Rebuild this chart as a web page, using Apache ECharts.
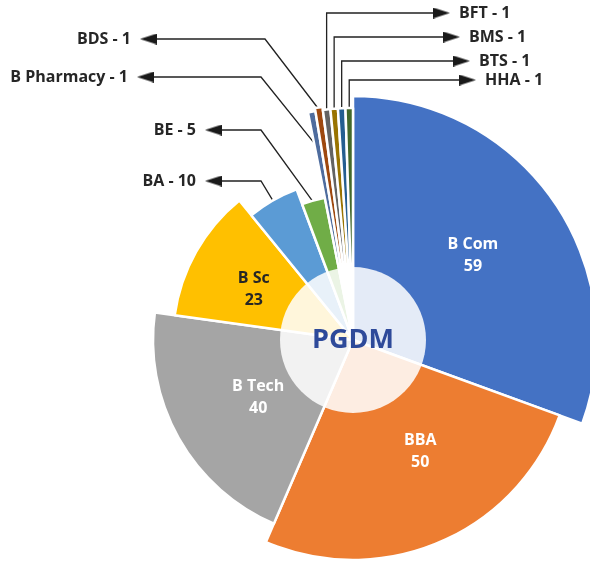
<!DOCTYPE html>
<html><head><meta charset="utf-8">
<script src="https://cdn.jsdelivr.net/npm/echarts@6/dist/echarts.min.js"></script>
<style>html,body{margin:0;padding:0;background:#fff}#c{width:590px;height:561px}</style>
</head><body><div id="c"></div>
<script>
// ---- data ----
const categories = ['B Com','BBA','B Tech','B Sc','BA','BE','B Pharmacy','BDS','BFT','BMS','BTS','HHA'];
const values = [59,50,40,23,10,5,1,1,1,1,1,1];
const centerTitle = 'PGDM';

// ---- styles / layout ----
const colors = ['#4472C4','#ED7D31','#A5A5A5','#FFC000','#5B9BD5','#70AD47','#4E6C9E','#9E480E','#636363','#997300','#255E91','#43682B'];
const outerRadius = [244,220,200,180,161,145,232,235,232,232,232,232];
const center = [353,340];
const innerR = 73;
const FONT = '"Open Sans", "DejaVu Sans", sans-serif';
const insideLabel = {
  0:{r0:50, color:'#ffffff', offset:[-3,1]},
  1:{r0:38, color:'#ffffff', offset:[15,-10]},
  2:{r0:30, color:'#ffffff', offset:[8,0]},
  3:{r0:44, color:'#262626', offset:[1,6]}
};
const leaders = {
  4:{side:'left', startR:157, elbowX:261, y:181, endX:222},
  5:{side:'left', startR:142, elbowX:261, y:130, endX:222},
  6:{side:'left', startR:195, elbowX:261, y:77, endX:154},
  7:{side:'left', startR:233, elbowX:265, y:39, endX:157},
  8:{side:'right', startR:232, y:13, endX:433},
  9:{side:'right', startR:232, y:37, endX:443},
  10:{side:'right', startR:232, y:61, endX:453},
  11:{side:'right', startR:232, y:80, endX:459}
};

function makeArrow(dir){
  const c = document.createElement('canvas');
  c.width = 17; c.height = 11;
  const g = c.getContext('2d');
  g.fillStyle = '#1a1a1a';
  g.beginPath();
  if (dir === 'left'){ g.moveTo(0,5.5); g.lineTo(17,0); g.lineTo(17,11); }
  else { g.moveTo(17,5.5); g.lineTo(0,0); g.lineTo(0,11); }
  g.closePath(); g.fill();
  return c;
}
const arrowL = makeArrow('left'), arrowR = makeArrow('right');

const total = values.reduce((a,b)=>a+b,0);
function midAngle(j){
  let s = 0; for (let k=0;k<j;k++) s += values[k];
  return (s + values[j]/2) / total * Math.PI * 2;
}
function pointAt(j, r){
  const t = midAngle(j);
  return [center[0] + r*Math.sin(t), center[1] - r*Math.cos(t)];
}

const richText = {
  t:{fontSize:16, fontWeight:'bold', color:'#262626', fontFamily:FONT, lineHeight:20},
  g:{width:9},
  al:{width:17, height:11, backgroundColor:{image:arrowL}},
  ar:{width:17, height:11, backgroundColor:{image:arrowR}}
};

const series = [];
categories.forEach((cat, i) => {
  const hasLeader = leaders[i] != null;
  series.push({
    type:'pie', center:center, radius:[0, outerRadius[i]], startAngle:90, clockwise:true,
    silent:true, animation:false, avoidLabelOverlap:false, emphasis:{disabled:true},
    data: values.map((v,j)=>({
      name:categories[j], value:v,
      itemStyle: j===i ? {color:colors[j], borderColor:'#ffffff', borderWidth:2.5} : {color:'rgba(0,0,0,0)', borderWidth:0},
      label:{show: j===i && hasLeader},
      labelLine:{show: j===i && hasLeader}
    })),
    label:{
      position:'outside',
      formatter: p => leaders[p.dataIndex] && leaders[p.dataIndex].side === 'right'
        ? '{ar| }{g| }{t|' + p.name + ' - ' + p.value + '}'
        : '{t|' + p.name + ' - ' + p.value + '}{g| }{al| }',
      rich: richText
    },
    labelLine:{show:true, smooth:false, lineStyle:{color:'#222222', width:1.3}},
    labelLayout: function(p){
      const L = leaders[p.dataIndex];
      if (!L) return {};
      const s = pointAt(p.dataIndex, L.startR);
      if (L.side === 'left'){
        return {x:L.endX, y:L.y, align:'right', verticalAlign:'middle',
          labelLinePoints:[s, [L.elbowX, L.y], [L.endX, L.y]]};
      }
      return {x:L.endX, y:L.y, align:'left', verticalAlign:'middle',
        labelLinePoints:[s, [s[0], L.y], [L.endX, L.y]]};
    }
  });
});

// translucent centre disc
series.push({
  type:'pie', center:center, radius:[0, innerR], silent:true, animation:false, emphasis:{disabled:true},
  data:[{name:centerTitle, value:1, itemStyle:{color:'rgba(255,255,255,0.86)'}}],
  label:{show:true, position:'center', formatter:centerTitle, fontSize:27, fontWeight:'bold', color:'#2E4A9A', fontFamily:FONT},
  labelLine:{show:false}
});

// inside labels
Object.keys(insideLabel).forEach(k => {
  const i = +k, cfg = insideLabel[k];
  series.push({
    type:'pie', center:center, radius:[cfg.r0, outerRadius[i]], startAngle:90, clockwise:true,
    silent:true, animation:false, avoidLabelOverlap:false, emphasis:{disabled:true},
    data: values.map((v,j)=>({name:categories[j], value:v, itemStyle:{color:'rgba(0,0,0,0)', borderWidth:0},
      label:{show:j===i}})),
    label:{position:'inside', formatter:'{b}\n{c}', fontSize:16, fontWeight:'bold', lineHeight:22, color:cfg.color, fontFamily:FONT, offset:cfg.offset},
    labelLine:{show:false}
  });
});

const chart = echarts.init(document.getElementById('c'), null, {renderer:'canvas'});
chart.setOption({animation:false, backgroundColor:'#ffffff', series:series});
</script></body></html>
